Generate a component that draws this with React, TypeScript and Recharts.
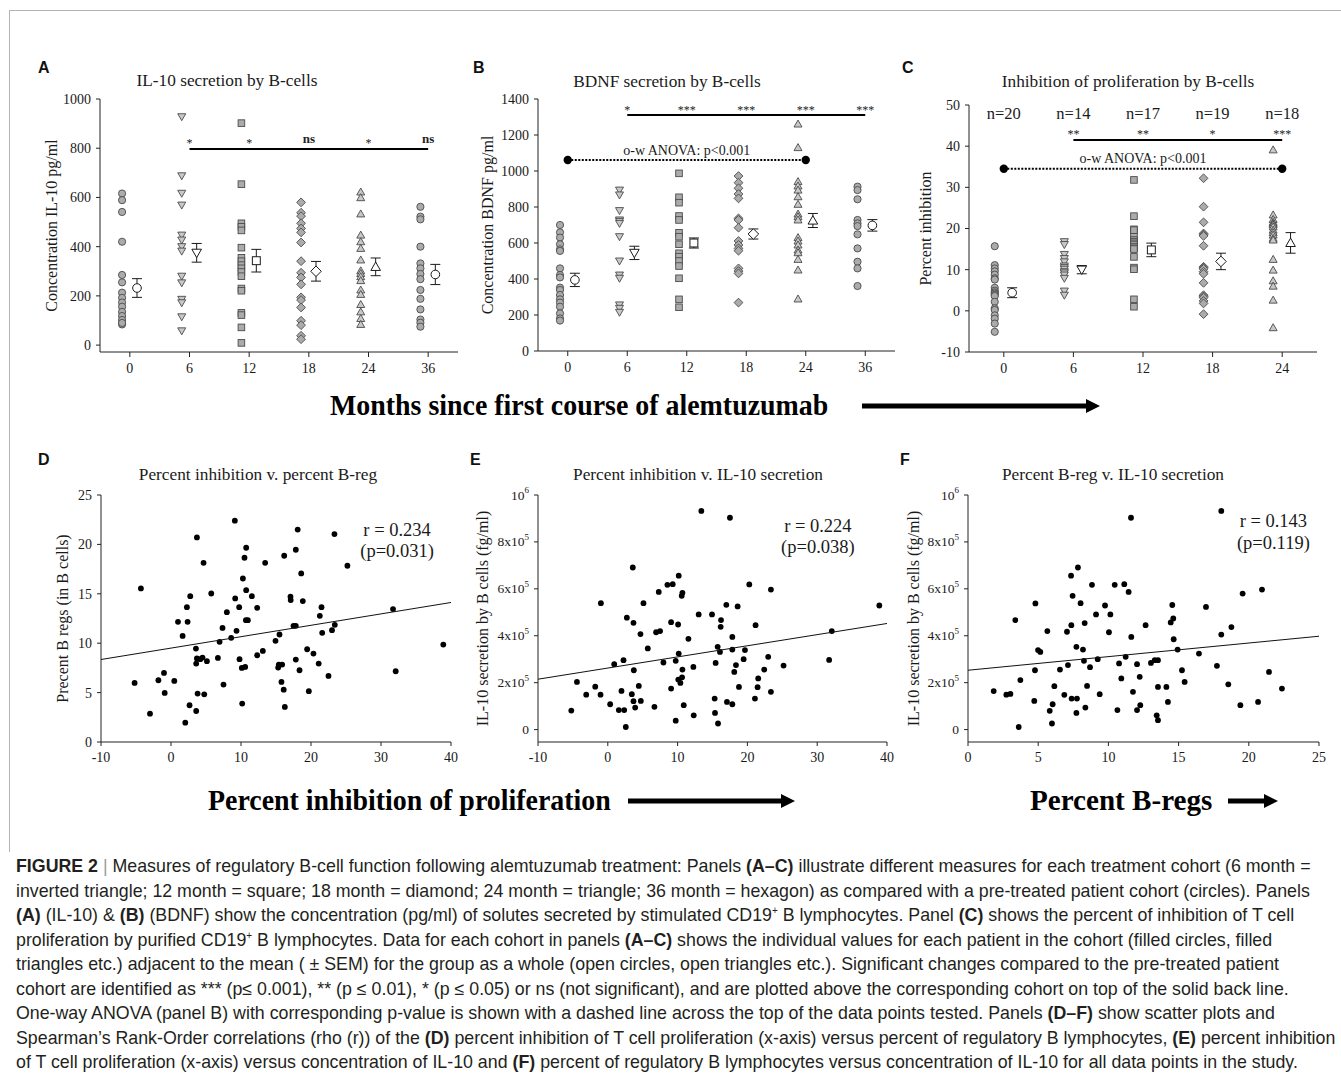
import React from 'react';
import { ScatterChart, Scatter, XAxis, YAxis, ErrorBar, ReferenceLine } from 'recharts';

const SERIF = '"Liberation Serif", "Times New Roman", Times, serif';
const SANS = '"Liberation Sans", Arial, Helvetica, sans-serif';
const INK = '#1a1a1a';

// ── Data: panels A–C (cohorts by months since first course) ─────────────────

const MONTHS = ['0', '6', '12', '18', '24', '36'];

const IL10_VALUES = [
  [616, 589, 541, 420, 285, 255, 213, 192, 173, 156, 135, 118, 102, 84, 90],
  [928, 688, 617, 569, 447, 427, 400, 382, 280, 253, 186, 172, 115, 58],
  [902, 654, 495, 481, 466, 396, 355, 341, 325, 312, 297, 280, 230, 221, 131, 122, 72, 9],
  [580, 538, 524, 495, 474, 458, 417, 341, 294, 275, 247, 194, 183, 153, 99, 81, 38, 24],
  [622, 599, 533, 447, 420, 393, 346, 302, 291, 278, 262, 224, 206, 165, 135, 108, 84],
  [562, 522, 511, 400, 332, 312, 289, 268, 224, 188, 145, 104, 91, 75],
];
const IL10_MEAN = [232, 375, 343, 300, 318, 287];
const IL10_SEM = [38, 38, 46, 40, 36, 41];
const IL10_SIG = ['*', '*', 'ns', '*', 'ns'];

const BDNF_VALUES = [
  [700, 659, 630, 593, 565, 556, 459, 422, 409, 352, 339, 311, 287, 269, 246, 209, 181, 169],
  [894, 867, 780, 728, 720, 709, 635, 500, 422, 404, 256, 237, 215],
  [987, 854, 824, 750, 728, 657, 635, 593, 543, 524, 500, 472, 404, 287, 243],
  [972, 935, 904, 872, 848, 737, 728, 685, 611, 589, 570, 557, 459, 444, 431, 269],
  [1261, 1130, 941, 917, 894, 857, 815, 761, 746, 728, 630, 611, 589, 561, 546, 509, 450, 289],
  [913, 894, 843, 728, 709, 694, 648, 570, 496, 459, 361],
];
const BDNF_MEAN = [395, 545, 600, 650, 725, 698];
const BDNF_SEM = [37, 37, 28, 28, 39, 32];
const BDNF_SIG = ['*', '***', '***', '***', '***'];

const INHIB_VALUES = [
  [15.7, 11.1, 10.3, 9.6, 8.8, 7.9, 7.6, 5.6, 4.9, 4.5, 4.2, 3.9, 3.6, 2.2, 0.6, 0.2, -1.1, -1.9, -3.1, -5.1],
  [16.8, 16.1, 13.7, 12.7, 11.9, 10.9, 10.5, 10.1, 9.5, 9.2, 8.7, 7.9, 4.8, 3.8],
  [31.8, 23.0, 19.8, 19.6, 18.0, 17.2, 16.8, 16.4, 16.1, 15.6, 15.2, 15.0, 13.1, 10.5, 10.1, 2.8, 1.0],
  [32.2, 25.3, 21.5, 18.8, 18.5, 18.2, 15.8, 10.7, 10.5, 10.2, 9.5, 9.0, 6.8, 3.8, 3.5, 3.2, 2.4, 1.8, -0.8],
  [39.1, 23.3, 22.2, 21.5, 21.2, 20.9, 20.4, 19.6, 19.0, 18.4, 17.6, 17.2, 12.5, 9.9, 7.3, 6.0, 2.6, -4.1],
];
const INHIB_MEAN = [4.4, 10.0, 14.8, 12.0, 16.5];
const INHIB_SEM = [1.2, 1.0, 1.65, 2.0, 2.5];
const INHIB_SIG = ['**', '**', '*', '***'];
const INHIB_N = ['n=20', 'n=14', 'n=17', 'n=19', 'n=18'];

const COHORT_SHAPES = ['circle', 'inv', 'square', 'diamond', 'tri', 'circle'];

// ── Data: panels D–F (all points) ───────────────────────────────────────────

const D_INHIB = [-5.2, -4.3, -3.0, -1.8, -1.0, -0.9, 0.47, 1.0, 1.66, 2.04, 2.27, 2.37, 2.65, 2.75, 3.56, 3.7, 3.6, 3.7, 3.8, 3.6, 4.18, 4.5, 4.65, 4.75, 5.13, 5.75, 6.7, 6.94, 7.36, 7.5, 7.98, 8.6, 9.12, 9.17, 9.36, 9.74, 9.79, 10.17, 10.27, 10.12, 10.5, 10.6, 10.74, 10.74, 10.7, 10.98, 11.55, 12.31, 12.31, 13.12, 13.45, 14.93, 15.5, 15.31, 15.4, 15.88, 15.78, 16.1, 16.17, 16.26, 17.07, 17.1, 17.5, 17.83, 17.83, 17.83, 18.1, 18.36, 18.6, 18.83, 19.45, 19.69, 20.35, 21.1, 21.26, 21.5, 21.6, 22.5, 23.0, 23.35, 23.4, 25.2, 31.72, 32.1, 38.9];
const D_BREG = [5.98, 15.54, 2.87, 6.25, 6.99, 4.97, 6.18, 12.16, 10.74, 1.96, 13.65, 12.16, 3.72, 14.76, 9.46, 20.71, 7.94, 8.45, 4.9, 3.14, 8.38, 8.55, 18.14, 4.83, 8.18, 15.03, 8.51, 10.14, 11.55, 5.81, 13.14, 10.54, 22.4, 14.53, 11.25, 13.65, 8.38, 3.89, 16.55, 7.5, 18.65, 7.6, 15.37, 19.66, 12.33, 12.33, 14.76, 13.58, 8.78, 9.22, 18.14, 10.24, 10.88, 7.53, 7.84, 7.84, 6.08, 5.3, 18.85, 3.55, 14.7, 14.36, 11.76, 11.76, 8.34, 19.46, 21.5, 7.26, 17.06, 14.26, 9.39, 5.14, 8.95, 7.94, 12.77, 13.65, 11.05, 6.69, 11.32, 21.05, 11.86, 17.84, 13.45, 7.16, 9.86];
const D_TREND_X = [-10, 40];
const D_TREND_Y = [8.35, 14.12];

const E_INHIB = [-5.23, -4.42, -3.09, -1.8, -1.04, -0.99, 0.34, 0.92, 1.58, 1.96, 2.25, 2.35, 2.58, 2.73, 3.44, 3.58, 3.68, 3.73, 3.68, 3.92, 4.44, 4.68, 4.73, 5.11, 5.73, 6.68, 6.92, 7.3, 7.49, 7.97, 8.54, 9.07, 9.07, 9.3, 9.73, 9.73, 10.07, 10.16, 10.16, 10.1, 10.4, 10.59, 10.69, 10.69, 10.64, 10.88, 11.55, 12.26, 12.31, 13.02, 13.4, 14.93, 15.31, 15.36, 15.45, 15.74, 15.79, 16.07, 16.22, 16.17, 16.98, 17.07, 17.5, 17.84, 17.84, 17.84, 18.12, 18.36, 18.6, 18.79, 19.46, 19.65, 20.27, 21.17, 21.08, 21.46, 21.55, 22.41, 22.98, 23.37, 23.37, 25.18, 31.71, 32.09, 38.9];
const E_IL10 = [0.81, 2.03, 1.49, 1.83, 1.49, 5.39, 1.08, 2.79, 0.83, 1.65, 2.96, 0.83, 0.11, 4.77, 1.51, 6.91, 4.55, 2.53, 1.21, 0.94, 1.86, 4.07, 1.22, 5.39, 3.46, 0.97, 4.15, 5.87, 4.2, 2.86, 6.17, 1.75, 4.58, 6.2, 0.38, 2.93, 4.48, 6.56, 3.24, 2.13, 1.99, 5.7, 5.83, 2.56, 2.23, 1.04, 3.87, 2.67, 0.61, 4.91, 9.32, 4.91, 1.32, 0.71, 2.84, 3.53, 0.26, 3.31, 4.67, 4.38, 5.32, 1.18, 9.03, 3.95, 1.08, 3.41, 2.46, 2.75, 5.25, 1.82, 3.0, 3.39, 6.19, 4.45, 1.32, 1.81, 2.18, 2.56, 3.1, 1.61, 5.97, 2.73, 2.97, 4.2, 5.29];
const E_TREND_X = [-10, 40];
const E_TREND_Y = [2.148, 4.523];

const F_BREG = [1.83, 2.73, 3.02, 3.37, 3.61, 3.73, 4.72, 4.77, 4.8, 4.99, 5.15, 5.65, 5.82, 6.03, 5.98, 6.15, 6.55, 6.86, 7.05, 7.12, 7.34, 7.36, 7.38, 7.45, 7.72, 7.72, 7.76, 7.83, 8.02, 8.19, 8.26, 8.31, 8.36, 8.48, 8.69, 8.83, 9.12, 9.24, 9.38, 9.76, 10.04, 10.14, 10.45, 10.64, 10.76, 10.92, 11.13, 11.23, 11.44, 11.61, 11.63, 11.75, 12.04, 12.04, 12.23, 12.27, 12.65, 13.03, 13.3, 13.44, 13.53, 13.53, 13.53, 14.13, 14.24, 14.44, 14.55, 14.62, 14.65, 14.93, 15.24, 15.43, 16.45, 16.95, 17.73, 18.04, 18.04, 18.54, 18.76, 19.4, 19.56, 20.66, 20.94, 21.44, 22.36];
const F_IL10 = [1.64, 1.49, 1.52, 4.67, 0.11, 2.11, 1.22, 2.53, 5.38, 3.39, 3.31, 4.2, 0.8, 1.08, 0.26, 1.85, 2.56, 1.48, 4.17, 2.75, 6.56, 4.45, 1.32, 5.7, 3.53, 0.71, 1.32, 6.91, 5.39, 3.41, 2.93, 4.54, 0.94, 1.86, 2.66, 6.17, 4.91, 3.0, 1.51, 5.29, 4.15, 4.91, 6.17, 0.83, 2.82, 2.18, 6.2, 3.1, 5.87, 9.03, 3.95, 1.61, 2.79, 0.83, 2.25, 1.04, 4.45, 2.84, 2.96, 0.61, 2.96, 0.4, 1.82, 1.82, 1.18, 4.57, 5.31, 4.74, 3.85, 3.41, 2.53, 2.03, 3.24, 5.23, 2.72, 9.32, 4.05, 1.93, 4.37, 1.04, 5.8, 1.18, 5.97, 2.46, 1.75];
const F_TREND_X = [0, 25];
const F_TREND_Y = [2.53, 3.98];

const IL10_TICKS = [0, 200000, 400000, 600000, 800000, 1000000];

// ── Marker shapes ───────────────────────────────────────────────────────────

function marker(kind: string, open: boolean) {
  return (p: any) => {
    const { cx, cy } = p;
    if (cx == null || cy == null) return <g />;
    const fill = open ? '#ffffff' : kind === 'inv' || kind === 'tri' ? '#c8c8c8' : '#ababab';
    const stroke = open ? INK : '#4a4a4a';
    const s = open ? 1.2 : 1;
    const sw = open ? 1 : 0.9;
    const common = { fill, stroke, strokeWidth: sw };
    if (kind === 'circle') return <circle cx={cx} cy={cy} r={3.6 * s} {...common} />;
    if (kind === 'square') {
      const h = 3.3 * s;
      return <rect x={cx - h} y={cy - h} width={2 * h} height={2 * h} {...common} />;
    }
    if (kind === 'diamond') {
      const h = 4.4 * s;
      return <polygon points={`${cx},${cy - h} ${cx + h},${cy} ${cx},${cy + h} ${cx - h},${cy}`} {...common} />;
    }
    const h = 4 * s;
    if (kind === 'tri')
      return <polygon points={`${cx},${cy - h} ${cx + h},${cy + h * 0.75} ${cx - h},${cy + h * 0.75}`} {...common} />;
    return <polygon points={`${cx},${cy + h} ${cx + h},${cy - h * 0.75} ${cx - h},${cy - h * 0.75}`} {...common} />;
  };
}

const dotShape = (p: any) => <circle cx={p.cx} cy={p.cy} r={2.9} fill="#000" />;
const bigDot = (p: any) => <circle cx={p.cx} cy={p.cy} r={4.2} fill="#000" />;
const noShape = () => <g />;

function textShape(size: number, weight: string | number = 'normal', color = INK) {
  return (p: any) => {
    const t: string = p.payload.t;
    const star = t.indexOf('*') >= 0;
    return (
      <text x={p.cx} y={p.cy} dy={star ? 4 : 0} textAnchor="middle" fontFamily={SERIF}
        fontSize={star ? size - 1 : size} fontWeight={star ? 'normal' : weight} fill={color}>
        {t}
      </text>
    );
  };
}

function yLabel(text: string, dx: number) {
  return {
    content: (props: any) => {
      const vb = props.viewBox || {};
      const x = (vb.x || 0) + dx;
      const y = (vb.y || 0) + (vb.height || 0) / 2;
      return (
        <text x={x} y={y} transform={`rotate(-90 ${x} ${y})`} textAnchor="middle"
          dominantBaseline="central" fontSize={16} fontFamily={SERIF} fill={INK}>{text}</text>
      );
    },
  };
}

const tickStyle = { fontSize: 14, fill: INK, fontFamily: SERIF };
const axisLine = { stroke: '#222', strokeWidth: 1 };

function PowerTick(props: any) {
  const { x, y, payload } = props;
  const v = payload.value as number;
  let base = '0';
  let exp = '';
  if (v === 1000000) { base = '10'; exp = '6'; }
  else if (v > 0) { base = `${v / 100000}x10`; exp = '5'; }
  return (
    <text x={x} y={y} textAnchor="end" dominantBaseline="central" fontFamily={SERIF} fontSize={13.5} fill={INK}>
      {base}
      {exp && <tspan dy={-5} fontSize={9}>{exp}</tspan>}
    </text>
  );
}

// ── Cohort panel (A–C) ──────────────────────────────────────────────────────

interface CohortProps {
  left: number; top: number; width: number; height: number;
  mTop: number; mRight: number; yWidth: number;
  domain: [number, number]; ticks: number[];
  groups: number[][]; means: number[]; sems: number[];
  sig: string[]; sigY: number; sigLabelY: number;
  anova?: { y: number; textY: number; last: number };
  nLabels?: string[]; nY?: number;
  ylab: string; ylabDx: number;
}

function CohortPanel(p: CohortProps) {
  const nc = p.groups.length;
  const xTicks = p.groups.map((_, i) => i);
  const sigData = p.sig.map((t, i) => ({ x: i + 1, y: p.sigLabelY, t }));
  const meanErr = p.means.map((m, i) => ({ x: i + 0.12, y: m, e: p.sems[i] }));
  return (
    <div style={{ position: 'absolute', left: p.left, top: p.top }}>
      <ScatterChart width={p.width} height={p.height}
        margin={{ top: p.mTop, right: p.mRight, bottom: 0, left: 0 }}>
        <XAxis type="number" dataKey="x" domain={[-0.5, nc - 0.5]} ticks={xTicks} interval={0}
          tickFormatter={(v: number) => MONTHS[v]} tick={tickStyle} axisLine={axisLine}
          tickLine={axisLine} tickSize={5} tickMargin={6} height={30} allowDataOverflow />
        <YAxis type="number" dataKey="y" domain={p.domain} ticks={p.ticks} interval={0}
          tick={tickStyle} axisLine={axisLine} tickLine={axisLine} tickSize={4} tickMargin={5}
          width={p.yWidth} allowDataOverflow label={yLabel(p.ylab, p.ylabDx)} />
        {p.groups.map((vals, i) => (
          <Scatter key={`g${i}`} data={vals.map(y => ({ x: i - 0.13, y }))}
            shape={marker(COHORT_SHAPES[i], false)} isAnimationActive={false} />
        ))}
        <Scatter data={meanErr} shape={noShape} isAnimationActive={false}>
          <ErrorBar dataKey="e" direction="y" width={5} stroke={INK} strokeWidth={1} isAnimationActive={false} />
        </Scatter>
        {p.means.map((m, i) => (
          <Scatter key={`m${i}`} data={[{ x: i + 0.12, y: m }]}
            shape={marker(COHORT_SHAPES[i], true)} isAnimationActive={false} />
        ))}
        <ReferenceLine segment={[{ x: 1, y: p.sigY }, { x: nc - 1, y: p.sigY }]}
          stroke="#000" strokeWidth={2} ifOverflow="visible" />
        <Scatter data={sigData} shape={textShape(13, 'bold', '#222')} isAnimationActive={false} />
        {p.anova && (
          <ReferenceLine segment={[{ x: 0, y: p.anova.y }, { x: p.anova.last, y: p.anova.y }]}
            stroke="#000" strokeWidth={2} strokeDasharray="2 1.5" ifOverflow="visible" />
        )}
        {p.anova && (
          <Scatter data={[{ x: 0, y: p.anova.y }, { x: p.anova.last, y: p.anova.y }]}
            shape={bigDot} isAnimationActive={false} />
        )}
        {p.anova && (
          <Scatter data={[{ x: 2, y: p.anova.textY, t: 'o-w ANOVA: p<0.001' }]}
            shape={textShape(14)} isAnimationActive={false} />
        )}
        {p.nLabels && (
          <Scatter data={p.nLabels.map((t, i) => ({ x: i, y: p.nY, t }))}
            shape={textShape(16.5)} isAnimationActive={false} />
        )}
      </ScatterChart>
    </div>
  );
}

// ── Correlation panel (D–F) ─────────────────────────────────────────────────

interface CorrProps {
  left: number; top: number; width: number; height: number;
  mRight: number; yWidth: number;
  xs: number[]; ys: number[]; yScale: number;
  trendX: number[]; trendY: number[];
  xDomain: [number, number]; xTicks: number[];
  yDomain: [number, number]; yTicks: number[];
  power?: boolean;
  r: string; pv: string; annX: number; rY: number; pY: number;
  ylab: string; ylabDx: number;
}

function CorrPanel(p: CorrProps) {
  const pts = p.xs.map((x, i) => ({ x, y: p.ys[i] * p.yScale }));
  const trend = p.trendX.map((x, i) => ({ x, y: p.trendY[i] * p.yScale }));
  return (
    <div style={{ position: 'absolute', left: p.left, top: p.top }}>
      <ScatterChart width={p.width} height={p.height}
        margin={{ top: 45, right: p.mRight, bottom: 0, left: 0 }}>
        <XAxis type="number" dataKey="x" domain={p.xDomain} ticks={p.xTicks} interval={0}
          tick={tickStyle} axisLine={axisLine} tickLine={axisLine} tickSize={4} tickMargin={6}
          height={30} allowDataOverflow />
        <YAxis type="number" dataKey="y" domain={p.yDomain} ticks={p.yTicks} interval={0}
          tick={p.power ? <PowerTick /> : tickStyle} axisLine={axisLine} tickLine={axisLine}
          tickSize={4} tickMargin={5} width={p.yWidth} allowDataOverflow
          label={yLabel(p.ylab, p.ylabDx)} />
        <Scatter data={pts} shape={dotShape} isAnimationActive={false} />
        <Scatter data={trend} shape={noShape} line={{ stroke: '#111', strokeWidth: 1 }}
          isAnimationActive={false} />
        <Scatter data={[{ x: p.annX, y: p.rY, t: p.r }, { x: p.annX, y: p.pY, t: p.pv }]}
          shape={textShape(18.5)} isAnimationActive={false} />
      </ScatterChart>
    </div>
  );
}

// ── Static pieces ───────────────────────────────────────────────────────────

function Letter({ x, y, c }: { x: number; y: number; c: string }) {
  return (
    <div style={{ position: 'absolute', left: x, top: y, fontFamily: SANS, fontWeight: 700, fontSize: 16, lineHeight: '16px', color: '#111' }}>{c}</div>
  );
}

function Title({ cx, y, text }: { cx: number; y: number; text: string }) {
  return (
    <div style={{ position: 'absolute', left: cx - 200, width: 400, top: y - 10, textAlign: 'center', fontFamily: SERIF, fontSize: 17.3, lineHeight: '20px', color: INK, whiteSpace: 'nowrap' }}>{text}</div>
  );
}

function BigLabel({ x, cy, text, sx }: { x: number; cy: number; text: string; sx: number }) {
  return (
    <div style={{ position: 'absolute', left: x, top: cy - 18, fontFamily: SERIF, fontWeight: 700, fontSize: 30, lineHeight: '36px', color: '#000', whiteSpace: 'nowrap', transform: `scaleX(${sx})`, transformOrigin: 'left center' }}>{text}</div>
  );
}

function Arrow({ x1, x2, cy }: { x1: number; x2: number; cy: number }) {
  const w = x2 - x1;
  return (
    <svg style={{ position: 'absolute', left: x1, top: cy - 8 }} width={w} height={16}>
      <rect x={0} y={5.5} width={w - 12} height={5} fill="#000" />
      <polygon points={`${w - 14},1 ${w},8 ${w - 14},15`} fill="#000" />
    </svg>
  );
}

const B = ({ children }: { children: React.ReactNode }) => <b style={{ fontWeight: 700 }}>{children}</b>;
const SUP = <sup style={{ fontSize: 10, lineHeight: 0 }}>+</sup>;

const CAPTION_LINES: React.ReactNode[] = [
  <><b>FIGURE 2</b> <span style={{ color: '#9a9a9a' }}>|</span> Measures of regulatory B-cell function following alemtuzumab treatment: Panels <B>(A–C)</B> illustrate different measures for each treatment cohort (6 month =</>,
  <>inverted triangle; 12 month = square; 18 month = diamond; 24 month = triangle; 36 month = hexagon) as compared with a pre-treated patient cohort (circles). Panels</>,
  <><B>(A)</B> (IL-10) &amp; <B>(B)</B> (BDNF) show the concentration (pg/ml) of solutes secreted by stimulated CD19{SUP} B lymphocytes. Panel <B>(C)</B> shows the percent of inhibition of T cell</>,
  <>proliferation by purified CD19{SUP} B lymphocytes. Data for each cohort in panels <B>(A–C)</B> shows the individual values for each patient in the cohort (filled circles, filled</>,
  <>triangles etc.) adjacent to the mean ( ± SEM) for the group as a whole (open circles, open triangles etc.). Significant changes compared to the pre-treated patient</>,
  <>cohort are identified as *** (p≤ 0.001), ** (p ≤ 0.01), * (p ≤ 0.05) or ns (not significant), and are plotted above the corresponding cohort on top of the solid back line.</>,
  <>One-way ANOVA (panel B) with corresponding p-value is shown with a dashed line across the top of the data points tested. Panels <B>(D–F)</B> show scatter plots and</>,
  <>Spearman’s Rank-Order correlations (rho (r)) of the <B>(D)</B> percent inhibition of T cell proliferation (x-axis) versus percent of regulatory B lymphocytes, <B>(E)</B> percent inhibition</>,
  <>of T cell proliferation (x-axis) versus concentration of IL-10 and <B>(F)</B> percent of regulatory B lymphocytes versus concentration of IL-10 for all data points in the study.</>,
];

export default function App() {
  return (
    <div style={{ position: 'absolute', left: 0, top: 0, width: 1341, height: 1084, background: '#fff', overflow: 'hidden' }}>
      {/* figure frame */}
      <div style={{ position: 'absolute', left: 9, top: 10, width: 1332, height: 1, background: '#b4b4b4' }} />
      <div style={{ position: 'absolute', left: 9, top: 10, width: 1, height: 842, background: '#b4b4b4' }} />

      <Letter x={38} y={60} c="A" />
      <Letter x={473} y={60} c="B" />
      <Letter x={902} y={60} c="C" />
      <Letter x={38} y={452} c="D" />
      <Letter x={470} y={452} c="E" />
      <Letter x={900} y={452} c="F" />

      <Title cx={227} y={81} text="IL-10 secretion by B-cells" />
      <Title cx={667} y={82} text="BDNF secretion by B-cells" />
      <Title cx={1128} y={82} text="Inhibition of proliferation by B-cells" />
      <Title cx={258} y={475} text="Percent inhibition v. percent B-reg" />
      <Title cx={698} y={475} text="Percent inhibition v. IL-10 secretion" />
      <Title cx={1113} y={475} text="Percent B-reg v. IL-10 secretion" />

      <CohortPanel left={30} top={60} width={440} height={322} mTop={39} mRight={12} yWidth={70}
        domain={[-28, 1000]} ticks={[0, 200, 400, 600, 800, 1000]}
        groups={IL10_VALUES} means={IL10_MEAN} sems={IL10_SEM}
        sig={IL10_SIG} sigY={797} sigLabelY={822}
        ylab="Concentration IL-10 pg/ml" ylabDx={21} />

      <CohortPanel left={470} top={60} width={440} height={321} mTop={39} mRight={15} yWidth={68}
        domain={[0, 1400]} ticks={[0, 200, 400, 600, 800, 1000, 1200, 1400]}
        groups={BDNF_VALUES} means={BDNF_MEAN} sems={BDNF_SEM}
        sig={BDNF_SIG} sigY={1311} sigLabelY={1340}
        anova={{ y: 1061, textY: 1089, last: 4 }}
        ylab="Concentration BDNF pg/ml" ylabDx={17} />

      <CohortPanel left={900} top={60} width={431} height={322} mTop={45} mRight={14} yWidth={69}
        domain={[-10, 50]} ticks={[-10, 0, 10, 20, 30, 40, 50]}
        groups={INHIB_VALUES} means={INHIB_MEAN} sems={INHIB_SEM}
        sig={INHIB_SIG} sigY={41.5} sigLabelY={43}
        anova={{ y: 34.5, textY: 35.8, last: 4 }}
        nLabels={INHIB_N} nY={46.6}
        ylab="Percent inhibition" ylabDx={25} />

      <CorrPanel left={30} top={450} width={431} height={322} mRight={10} yWidth={71}
        xs={D_INHIB} ys={D_BREG} yScale={1} trendX={D_TREND_X} trendY={D_TREND_Y}
        xDomain={[-10, 40]} xTicks={[-10, 0, 10, 20, 30, 40]}
        yDomain={[0, 25]} yTicks={[0, 5, 10, 15, 20, 25]}
        r="r = 0.234" pv="(p=0.031)" annX={32.3} rY={20.85} pY={18.7}
        ylab="Precent B regs (in B cells)" ylabDx={32} />

      <CorrPanel left={470} top={450} width={430} height={322} mRight={13} yWidth={68}
        xs={E_INHIB} ys={E_IL10} yScale={100000} trendX={E_TREND_X} trendY={E_TREND_Y}
        xDomain={[-10, 40]} xTicks={[-10, 0, 10, 20, 30, 40]}
        yDomain={[-52900, 1000000]} yTicks={IL10_TICKS} power
        r="r = 0.224" pv="(p=0.038)" annX={30.1} rY={842000} pY={752000}
        ylab="IL-10 secretion by B cells (fg/ml)" ylabDx={12} />

      <CorrPanel left={900} top={450} width={431} height={322} mRight={12} yWidth={68}
        xs={F_BREG} ys={F_IL10} yScale={100000} trendX={F_TREND_X} trendY={F_TREND_Y}
        xDomain={[0, 25]} xTicks={[0, 5, 10, 15, 20, 25]}
        yDomain={[-52900, 1000000]} yTicks={IL10_TICKS} power
        r="r = 0.143" pv="(p=0.119)" annX={21.75} rY={863000} pY={769000}
        ylab="IL-10 secretion by B cells (fg/ml)" ylabDx={13} />

      <BigLabel x={330} cy={405} text="Months since first course of alemtuzumab" sx={0.93} />
      <Arrow x1={862} x2={1100} cy={406} />
      <BigLabel x={208} cy={800} text="Percent inhibition of proliferation" sx={0.93} />
      <Arrow x1={628} x2={795} cy={801} />
      <BigLabel x={1030} cy={800} text="Percent B-regs" sx={0.97} />
      <Arrow x1={1228} x2={1278} cy={801} />

      {CAPTION_LINES.map((line, i) => (
        <div key={i} style={{ position: 'absolute', left: 16, top: 856 + i * 24.5, fontFamily: SANS, fontSize: 17.8, lineHeight: '20px', color: '#231f20', whiteSpace: 'nowrap' }}>{line}</div>
      ))}
    </div>
  );
}
